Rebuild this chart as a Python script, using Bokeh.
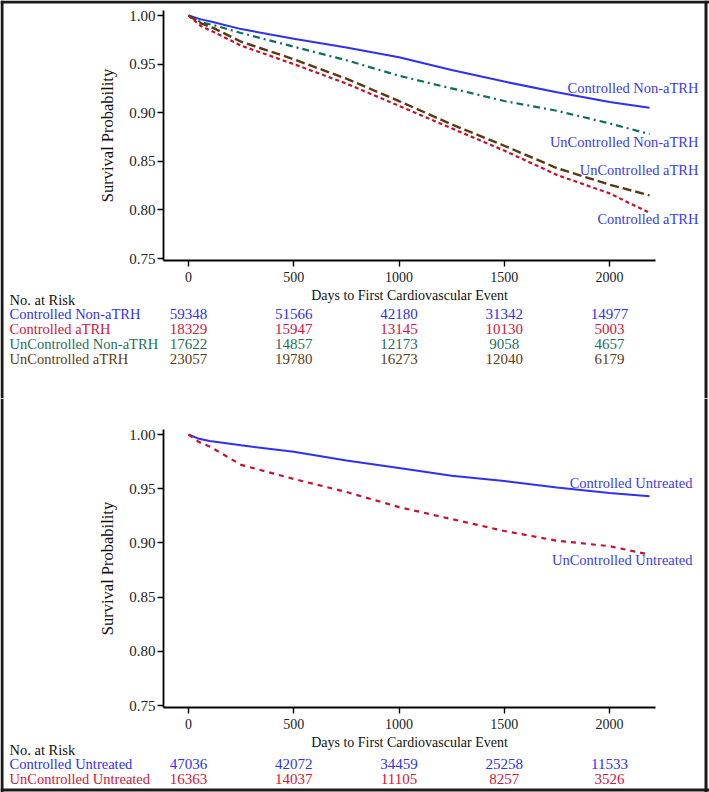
from bokeh.plotting import figure
from bokeh.models import (ColumnDataSource, FixedTicker, PrintfTickFormatter, Label, LabelSet,
                          Range1d, LinearAxis, Span)
from bokeh.layouts import column
from bokeh.embed import file_html
from bokeh.resources import INLINE

# ---------------- data ----------------
top_days = [0, 60, 120, 250, 500, 750, 1000, 1250, 1500, 1750, 2000, 2190]
top_controlled_non_atrh = [1.000, 0.996, 0.993, 0.986, 0.976, 0.967, 0.957, 0.944, 0.932, 0.921, 0.911, 0.905]
top_controlled_atrh = [1.000, 0.989, 0.983, 0.969, 0.950, 0.930, 0.907, 0.884, 0.861, 0.836, 0.817, 0.797]
top_uncontrolled_non_atrh = [1.000, 0.993, 0.990, 0.982, 0.968, 0.954, 0.938, 0.925, 0.912, 0.902, 0.889, 0.878]
top_uncontrolled_atrh = [1.000, 0.992, 0.987, 0.973, 0.955, 0.935, 0.912, 0.888, 0.866, 0.843, 0.826, 0.815]

bottom_days_controlled = [0, 50, 100, 250, 500, 750, 1000, 1250, 1500, 1750, 2000, 2190]
bottom_controlled_untreated = [1.000, 0.996, 0.994, 0.990, 0.984, 0.976, 0.969, 0.962, 0.957, 0.951, 0.946, 0.943]
bottom_days_uncontrolled = [0, 50, 100, 250, 500, 750, 1000, 1250, 1500, 1750, 2000, 2170]
bottom_uncontrolled_untreated = [1.000, 0.993, 0.989, 0.972, 0.959, 0.947, 0.933, 0.922, 0.911, 0.902, 0.897, 0.890]

x_ticks = [0, 500, 1000, 1500, 2000]
y_ticks = [0.75, 0.80, 0.85, 0.90, 0.95, 1.00]
risk_times = [0, 500, 1000, 1500, 2000]

top_groups = ["Controlled Non-aTRH", "Controlled aTRH", "UnControlled Non-aTRH", "UnControlled aTRH"]
top_risk_controlled_non_atrh = [59348, 51566, 42180, 31342, 14977]
top_risk_controlled_atrh = [18329, 15947, 13145, 10130, 5003]
top_risk_uncontrolled_non_atrh = [17622, 14857, 12173, 9058, 4657]
top_risk_uncontrolled_atrh = [23057, 19780, 16273, 12040, 6179]

bottom_groups = ["Controlled Untreated", "UnControlled Untreated"]
bottom_risk_controlled_untreated = [47036, 42072, 34459, 25258, 11533]
bottom_risk_uncontrolled_untreated = [16363, 14037, 11105, 8257, 3526]

# ---------------- styles / layout ----------------
SERIF = "Liberation Serif"
NARROW = "Liberation Sans Narrow, DejaVu Sans Condensed, Liberation Sans"
BLUE = "#2f2ff5"
RED = "#c8102e"
TEAL = "#0b6e5f"
BROWN = "#5a3a10"
LABEL_BLUE = "#3a3af2"
FRAME_COLOR = "#1a1a1a"

W = 709
DAY0_PX = 188.0           # screen x of day 0
PX_PER_DAY = 0.2105
AXIS_LEFT_PX = 163.0
AXIS_RIGHT_PX = 655.0


def px_to_day(px):
    return (px - DAY0_PX) / PX_PER_DAY


X_RANGE = (px_to_day(0), px_to_day(W))


def make_panel(height, one_px, px_per_unit, axis_top_px, axis_bottom_px):
    """one_px: in-figure pixel row of survival 1.00."""
    def py(fig_px):
        return 1.0 - (fig_px - one_px) / px_per_unit

    p = figure(width=W, height=height, output_backend="svg", toolbar_location=None,
               x_range=Range1d(*X_RANGE), y_range=Range1d(py(height), py(0)),
               x_axis_type=None, y_axis_type=None,
               min_border=0, min_border_left=0, min_border_right=0,
               min_border_top=0, min_border_bottom=0)
    p.outline_line_color = None
    p.background_fill_color = "white"
    p.border_fill_color = "white"

    xax = LinearAxis(fixed_location=py(axis_bottom_px),
                     bounds=(px_to_day(AXIS_LEFT_PX), px_to_day(AXIS_RIGHT_PX)),
                     ticker=FixedTicker(ticks=x_ticks),
                     axis_label="Days to First Cardiovascular Event")
    yax = LinearAxis(fixed_location=px_to_day(AXIS_LEFT_PX),
                     bounds=(py(axis_bottom_px), py(axis_top_px)),
                     ticker=FixedTicker(ticks=y_ticks),
                     formatter=PrintfTickFormatter(format="%.2f"),
                     axis_label="Survival Probability")
    for ax in (xax, yax):
        ax.axis_line_color = "black"
        ax.axis_line_width = 1.8
        ax.major_tick_line_color = "black"
        ax.major_tick_line_width = 1.4
        ax.major_tick_out = 6
        ax.major_tick_in = 0
        ax.minor_tick_line_color = None
        ax.major_label_text_font = SERIF
        ax.major_label_text_color = "#222222"
        ax.axis_label_text_font = SERIF
        ax.axis_label_text_font_style = "normal"
        ax.axis_label_text_color = "#111111"
    xax.major_label_text_font_size = "14px"
    xax.axis_label_text_font_size = "14px"
    xax.major_label_standoff = 5
    xax.axis_label_standoff = 3
    yax.major_label_text_font_size = "15px"
    yax.axis_label_text_font_size = "16.5px"
    yax.major_label_standoff = 2
    yax.axis_label_standoff = 9
    p.add_layout(xax, "below")
    p.add_layout(yax, "left")

    # picture border (left / right edges)
    for xpx in (1.5, W - 3.5):
        p.add_layout(Span(location=px_to_day(xpx), dimension="height",
                          line_color=FRAME_COLOR, line_width=3))
    return p, py


def add_text(p, x, y, text, color, align="left", font=SERIF, size="14.5px"):
    p.add_layout(Label(x=x, y=y, text=text, text_color=color, text_align=align,
                       text_baseline="middle", text_font=font, text_font_size=size))


def add_risk_row(p, y, counts, color):
    src = ColumnDataSource(dict(x=risk_times, y=[y] * len(risk_times), t=[str(c) for c in counts]))
    p.add_layout(LabelSet(x="x", y="y", text="t", source=src, text_color=color, text_align="center",
                          text_baseline="middle", text_font=NARROW, text_font_size="15px"))


# ---------------- top panel (page y 0..398) ----------------
top, ty = make_panel(398, 15, 972.0, 10, 260)
top.add_layout(Span(location=ty(1.5), dimension="width", line_color=FRAME_COLOR, line_width=3))
top.line(top_days, top_controlled_non_atrh, line_color=BLUE, line_width=2)
top.line(top_days, top_uncontrolled_non_atrh, line_color=TEAL, line_width=2.2, line_dash="7 4 2 4")
top.line(top_days, top_uncontrolled_atrh, line_color=BROWN, line_width=2.4, line_dash="9 4")
top.line(top_days, top_controlled_atrh, line_color=RED, line_width=2.2, line_dash="4 3")

lab_x = px_to_day(698)
add_text(top, lab_x, ty(87), "Controlled Non-aTRH", LABEL_BLUE, "right")
add_text(top, lab_x, ty(141), "UnControlled Non-aTRH", LABEL_BLUE, "right")
add_text(top, lab_x, ty(169), "UnControlled aTRH", LABEL_BLUE, "right")
add_text(top, lab_x, ty(218), "Controlled aTRH", LABEL_BLUE, "right")

row_x = px_to_day(9)
add_text(top, row_x, ty(299), "No. at Risk", "#111111")
top_colors = [BLUE, "#d0163a", "#1b7060", "#5e3c14"]
top_counts = [top_risk_controlled_non_atrh, top_risk_controlled_atrh,
              top_risk_uncontrolled_non_atrh, top_risk_uncontrolled_atrh]
for i, (g, c, col) in enumerate(zip(top_groups, top_counts, top_colors)):
    yy = ty(313 + 15 * i)
    add_text(top, row_x, yy, g, col)
    add_risk_row(top, yy, c, col)

# ---------------- bottom panel (page y 398..792) ----------------
OFF = 398
BH = 394
bot, by = make_panel(BH, 434 - OFF, 1084.0, 429 - OFF, 707 - OFF)
bot.add_layout(Span(location=by(BH - 2.5), dimension="width", line_color=FRAME_COLOR, line_width=3))
bot.line(bottom_days_controlled, bottom_controlled_untreated, line_color=BLUE, line_width=2)
bot.line(bottom_days_uncontrolled, bottom_uncontrolled_untreated, line_color=RED, line_width=2.2, line_dash="5 5")

lab_x2 = px_to_day(692)
add_text(bot, lab_x2, by(482 - OFF), "Controlled Untreated", LABEL_BLUE, "right")
add_text(bot, lab_x2, by(559 - OFF), "UnControlled Untreated", LABEL_BLUE, "right")

add_text(bot, row_x, by(749 - OFF), "No. at Risk", "#111111")
bot_colors = [BLUE, "#d0163a"]
bot_counts = [bottom_risk_controlled_untreated, bottom_risk_uncontrolled_untreated]
for i, (g, c, col) in enumerate(zip(bottom_groups, bot_counts, bot_colors)):
    yy = by(763 - OFF + 15 * i)
    add_text(bot, row_x, yy, g, col)
    add_risk_row(bot, yy, c, col)

layout = column(top, bot, spacing=0)
open("out.html", "w").write(file_html(layout, INLINE))
